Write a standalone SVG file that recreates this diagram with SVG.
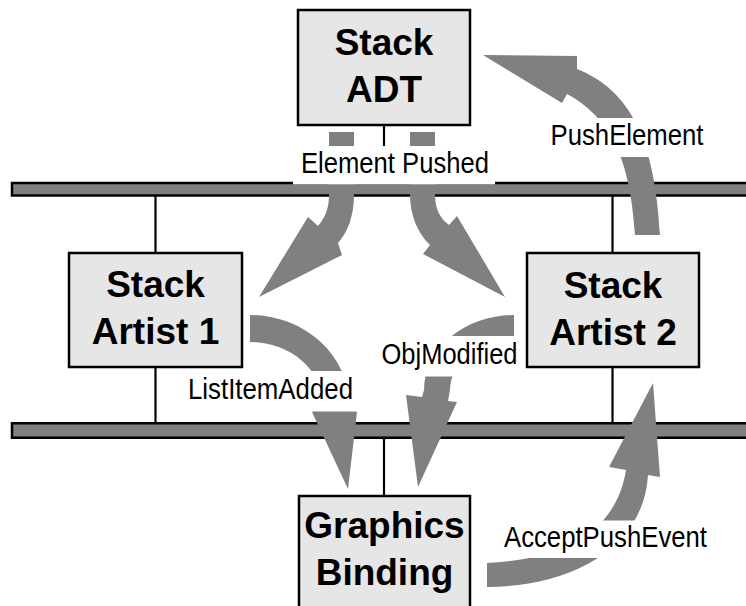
<svg xmlns="http://www.w3.org/2000/svg" width="746" height="606" viewBox="0 0 746 606">
  <style>
    .box { fill: #e6e6e6; stroke: #000; stroke-width: 2.5; }
    .title { font-family: "Liberation Sans", Arial, sans-serif; font-weight: bold; font-size: 37px; text-anchor: middle; fill: #000; }
    .bus { fill: #808080; stroke: #000; stroke-width: 2.5; }
    .wire { stroke: #000; stroke-width: 2.2; fill: none; }
    .flow { fill: #808080; stroke: none; }
    .lbl-bg { fill: #fff; }
    .lbl { font-family: "Liberation Sans Narrow", "Liberation Sans", Arial, sans-serif; font-size: 30px; fill: #000; }
  </style>

  <g id="connectors">
    <!-- attachment wires between nodes and buses -->
    <line class="wire" x1="384" y1="125" x2="384" y2="183"/>
    <line class="wire" x1="155.5" y1="196" x2="155.5" y2="253"/>
    <line class="wire" x1="155.5" y1="367" x2="155.5" y2="423"/>
    <line class="wire" x1="612.5" y1="196" x2="612.5" y2="253"/>
    <line class="wire" x1="612.5" y1="367" x2="612.5" y2="423"/>
    <line class="wire" x1="384" y1="437" x2="384" y2="496"/>

    <!-- event buses -->
    <rect class="bus" x="12" y="183" width="740" height="12.5"/>
    <rect class="bus" x="12" y="423.25" width="740" height="14.5"/>

    <!-- event flow arrows -->
    <path class="flow" d="M 329,132 L 354,132 L 354,195 C 354,215 348,232 338,243 L 342,255 L 259,297 L 308,217 L 318,226 C 324,219 329,210 329,195 Z"/>
    <path class="flow" d="M 410,132 L 410,195 C 410,215 418,234 430,245 L 423,254 L 505,297 L 457,216 L 449,225 C 441,219 435,210 435,195 L 435,132 Z"/>
    <path class="flow" d="M 250,315 A 99,90 0 0 1 349,405 L 357,412 L 348,489 L 312,412 L 323,405 A 73,63 0 0 0 250,342 Z"/>
    <path class="flow" d="M 514,315 A 90,75 0 0 0 424,390 L 422,397 L 406,395 L 418,487 L 457,402 L 448,401 L 450,390 A 64,49 0 0 1 514,341 Z"/>
    <path class="flow" d="M 487,587 C 560,587 643,555 648,475 L 660,477 L 653,383 L 609,467 L 626,470 C 615,540 550,560 487,563 Z"/>
    <path class="flow" d="M 660,235 C 655,140 630,90 577,69 L 577,56 L 483,55 L 562,103 L 567,94 C 605,115 630,150 635,235 Z"/>

    <!-- event labels -->
    <rect class="lbl-bg" x="293" y="146" width="202" height="38.3"/>
    <text class="lbl" x="301" y="173" textLength="188" lengthAdjust="spacingAndGlyphs">Element Pushed</text>

    <rect class="lbl-bg" x="545" y="118" width="163" height="39"/>
    <text class="lbl" x="550.5" y="145" textLength="153" lengthAdjust="spacingAndGlyphs">PushElement</text>

    <rect class="lbl-bg" x="183" y="371" width="175" height="40.5"/>
    <text class="lbl" x="188" y="399" textLength="165" lengthAdjust="spacingAndGlyphs">ListItemAdded</text>

    <rect class="lbl-bg" x="377" y="336" width="142" height="40.5"/>
    <text class="lbl" x="381.5" y="364" textLength="136" lengthAdjust="spacingAndGlyphs">ObjModified</text>

    <rect class="lbl-bg" x="499" y="520.5" width="212" height="37.5"/>
    <text class="lbl" x="504" y="547" textLength="203" lengthAdjust="spacingAndGlyphs">AcceptPushEvent</text>
  </g>

  <g id="stack-adt">
    <rect class="box" x="298" y="10" width="172" height="115"/>
    <text class="title" x="384" y="55">Stack</text>
    <text class="title" x="384" y="102">ADT</text>
  </g>

  <g id="stack-artist-1">
    <rect class="box" x="69" y="253" width="173" height="114"/>
    <text class="title" x="155.5" y="297">Stack</text>
    <text class="title" x="155.5" y="344">Artist 1</text>
  </g>

  <g id="stack-artist-2">
    <rect class="box" x="527" y="253" width="172" height="114"/>
    <text class="title" x="613" y="298">Stack</text>
    <text class="title" x="613" y="345">Artist 2</text>
  </g>

  <g id="graphics-binding">
    <rect class="box" x="299" y="496" width="171" height="125"/>
    <text class="title" x="384.5" y="538">Graphics</text>
    <text class="title" x="384.5" y="585">Binding</text>
  </g>
</svg>
